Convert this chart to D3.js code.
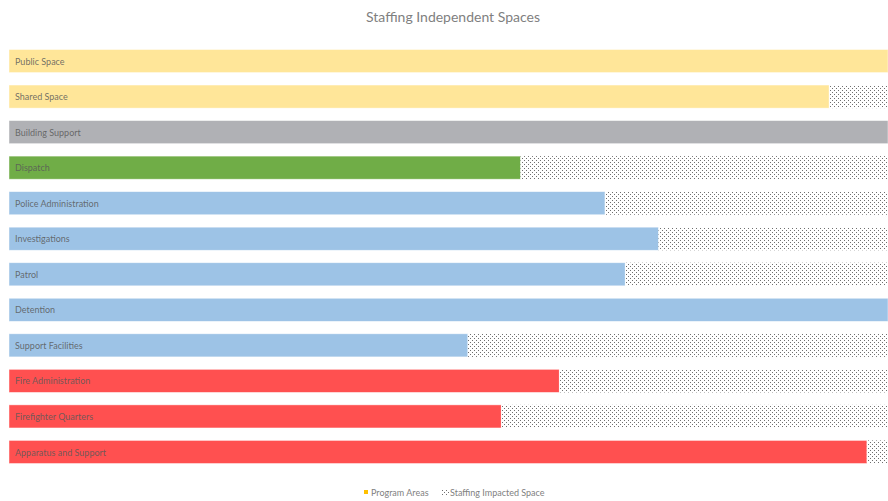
<!DOCTYPE html>
<html><head><meta charset="utf-8">
<script src="https://cdn.jsdelivr.net/npm/d3@7"></script>
<style>body{margin:0;background:#fff;} svg{display:block;font-family:Lato,"Open Sans",sans-serif;}</style>
</head><body>
<svg id="c" width="888" height="501"></svg>
<script>
const categories = ["Public Space","Shared Space","Building Support","Dispatch","Police Administration","Investigations","Patrol","Detention","Support Facilities","Fire Administration","Firefighter Quarters","Apparatus and Support"];
const programAreas = [100, 93.3, 100, 58.2, 67.8, 73.9, 70.1, 100, 52.2, 62.6, 56.0, 97.6];
const staffingImpacted = programAreas.map(v => 100 - v);
const barColors = ["#FFE699","#FFE699","#B0B1B5","#70AD47","#9DC3E6","#9DC3E6","#9DC3E6","#9DC3E6","#9DC3E6","#FF5050","#FF5050","#FF5050"];
const seriesNames = ["Program Areas","Staffing Impacted Space"];
const title = "Staffing Independent Spaces";

const svg = d3.select("#c");
const defs = svg.append("defs");
const pat = defs.append("pattern").attr("id","dots").attr("patternUnits","userSpaceOnUse").attr("width",4).attr("height",4);
pat.append("rect").attr("width",4).attr("height",4).attr("fill","#fff");
pat.append("rect").attr("x",0).attr("y",0).attr("width",1).attr("height",1).attr("fill","#6f6f6f");
pat.append("rect").attr("x",2).attr("y",2).attr("width",1).attr("height",1).attr("fill","#6f6f6f");

const x = d3.scaleLinear().domain([0,100]).range([9,888]);
const y = d3.scaleBand().domain(categories).range([49.5,463.5]).paddingInner(0.35).paddingOuter(0);

svg.append("text").attr("x",453).attr("y",22).attr("text-anchor","middle")
  .attr("font-size",14).attr("fill","#7f7f7f").text(title);

const g = svg.append("g");
categories.forEach((c,i) => {
  g.append("rect").attr("x",x(0)).attr("y",y(c)).attr("width",x(programAreas[i])-x(0)).attr("height",y.bandwidth())
    .attr("fill",barColors[i]).attr("stroke","#fff").attr("stroke-opacity",0.6).attr("stroke-width",0.75);
  if (staffingImpacted[i] > 0.01) {
    g.append("rect").attr("x",x(programAreas[i])).attr("y",y(c)).attr("width",x(100)-x(programAreas[i])).attr("height",y.bandwidth())
      .attr("fill","url(#dots)");
  }
  g.append("text").attr("x",x(0)+6).attr("y",y(c)+y.bandwidth()/2).attr("dy","0.4em")
    .attr("font-size",9).attr("fill","#595959").attr("fill-opacity",0.85).text(c);
});

const lg = svg.append("g").attr("font-size",9).attr("fill","#7f7f7f");
lg.append("rect").attr("x",364).attr("y",490).attr("width",4).attr("height",4).attr("fill","#FFC000");
lg.append("text").attr("x",371).attr("y",492).attr("dy","0.4em").text(seriesNames[0]);
lg.append("rect").attr("x",442).attr("y",489).attr("width",7).attr("height",6).attr("fill","url(#dots)");
lg.append("text").attr("x",450).attr("y",492).attr("dy","0.4em").text(seriesNames[1]);
</script>
</body></html>
